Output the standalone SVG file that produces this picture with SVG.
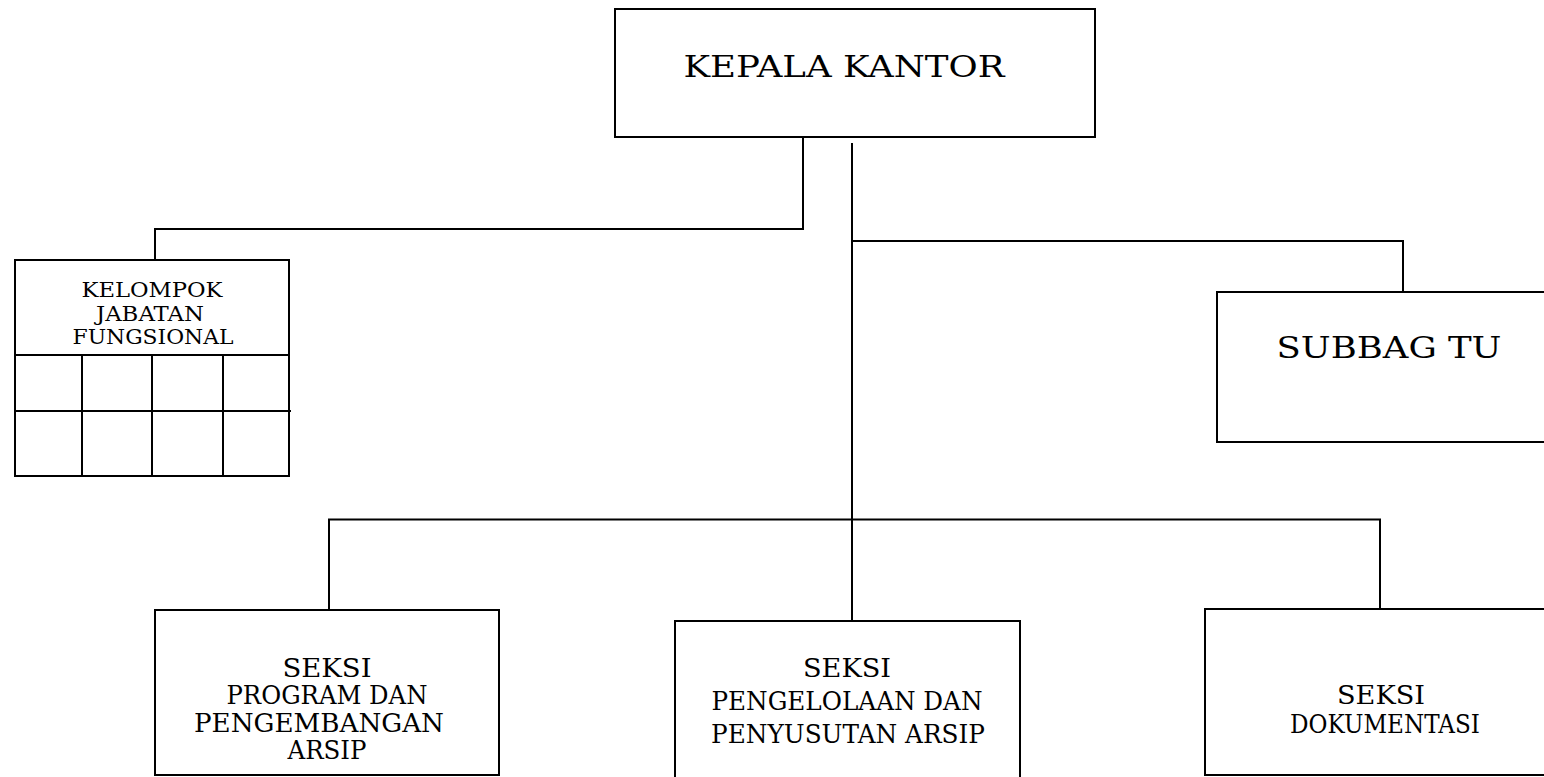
<svg xmlns="http://www.w3.org/2000/svg" width="1544" height="777" viewBox="0 0 1544 777">
<style>
.box{fill:#fff;stroke:#000;stroke-width:2}
.ln{fill:none;stroke:#000;stroke-width:2}
text{font-family:"DejaVu Serif","Liberation Serif",serif;fill:#000;text-anchor:middle}
.big{font-size:30px}
.mid{font-size:26px}
.sm{font-size:21px}
</style>
<rect width="1544" height="777" fill="#fff"/>
<g id="connectors">
<polyline class="ln" points="803,137 803,229 155,229 155,260"/>
<line class="ln" x1="852" y1="143" x2="852" y2="621"/>
<polyline class="ln" points="852,241 1403,241 1403,292"/>
<polyline class="ln" points="329,610 329,519.5 1380,519.5 1380,609"/>
</g>
<g id="kepala-kantor">
<rect class="box" x="615" y="9" width="480" height="128"/>
<text class="big" x="844" y="77" textLength="321" lengthAdjust="spacingAndGlyphs">KEPALA KANTOR</text>
</g>
<g id="kelompok-jabatan-fungsional">
<rect class="box" x="15" y="260" width="274" height="95"/>
<line class="ln" x1="289" y1="355" x2="289" y2="368"/>
<text class="sm" x="152" y="297" textLength="141" lengthAdjust="spacingAndGlyphs">KELOMPOK</text>
<text class="sm" x="150" y="321" textLength="108" lengthAdjust="spacingAndGlyphs">JABATAN</text>
<text class="sm" x="153" y="344" textLength="161" lengthAdjust="spacingAndGlyphs">FUNGSIONAL</text>
<rect class="box" x="15" y="355" width="274" height="121"/>
<line class="ln" x1="15" y1="411" x2="291" y2="411"/>
<line class="ln" x1="82" y1="355" x2="82" y2="476"/>
<line class="ln" x1="152" y1="355" x2="152" y2="476"/>
<line class="ln" x1="223" y1="355" x2="223" y2="476"/>
</g>
<g id="subbag-tu">
<rect class="box" x="1217" y="292" width="340" height="150"/>
<text class="big" x="1389" y="358" textLength="225" lengthAdjust="spacingAndGlyphs">SUBBAG TU</text>
</g>
<g id="seksi-program">
<rect class="box" x="155" y="610" width="344" height="165"/>
<text class="mid" x="327" y="677" textLength="89" lengthAdjust="spacingAndGlyphs">SEKSI</text>
<text class="mid" x="327" y="704" textLength="201" lengthAdjust="spacingAndGlyphs">PROGRAM DAN</text>
<text class="mid" x="319" y="731.5" textLength="250" lengthAdjust="spacingAndGlyphs">PENGEMBANGAN</text>
<text class="mid" x="327" y="759" textLength="79" lengthAdjust="spacingAndGlyphs">ARSIP</text>
</g>
<g id="seksi-pengelolaan">
<rect class="box" x="675" y="621" width="345" height="170"/>
<text class="mid" x="847" y="677" textLength="88" lengthAdjust="spacingAndGlyphs">SEKSI</text>
<text class="mid" x="847" y="710" textLength="271" lengthAdjust="spacingAndGlyphs">PENGELOLAAN DAN</text>
<text class="mid" x="848" y="742.5" textLength="274" lengthAdjust="spacingAndGlyphs">PENYUSUTAN ARSIP</text>
</g>
<g id="seksi-dokumentasi">
<rect class="box" x="1205" y="609" width="350" height="166"/>
<text class="mid" x="1381" y="704" textLength="88" lengthAdjust="spacingAndGlyphs">SEKSI</text>
<text class="mid" x="1385" y="732.5" textLength="190" lengthAdjust="spacingAndGlyphs">DOKUMENTASI</text>
</g>
</svg>
